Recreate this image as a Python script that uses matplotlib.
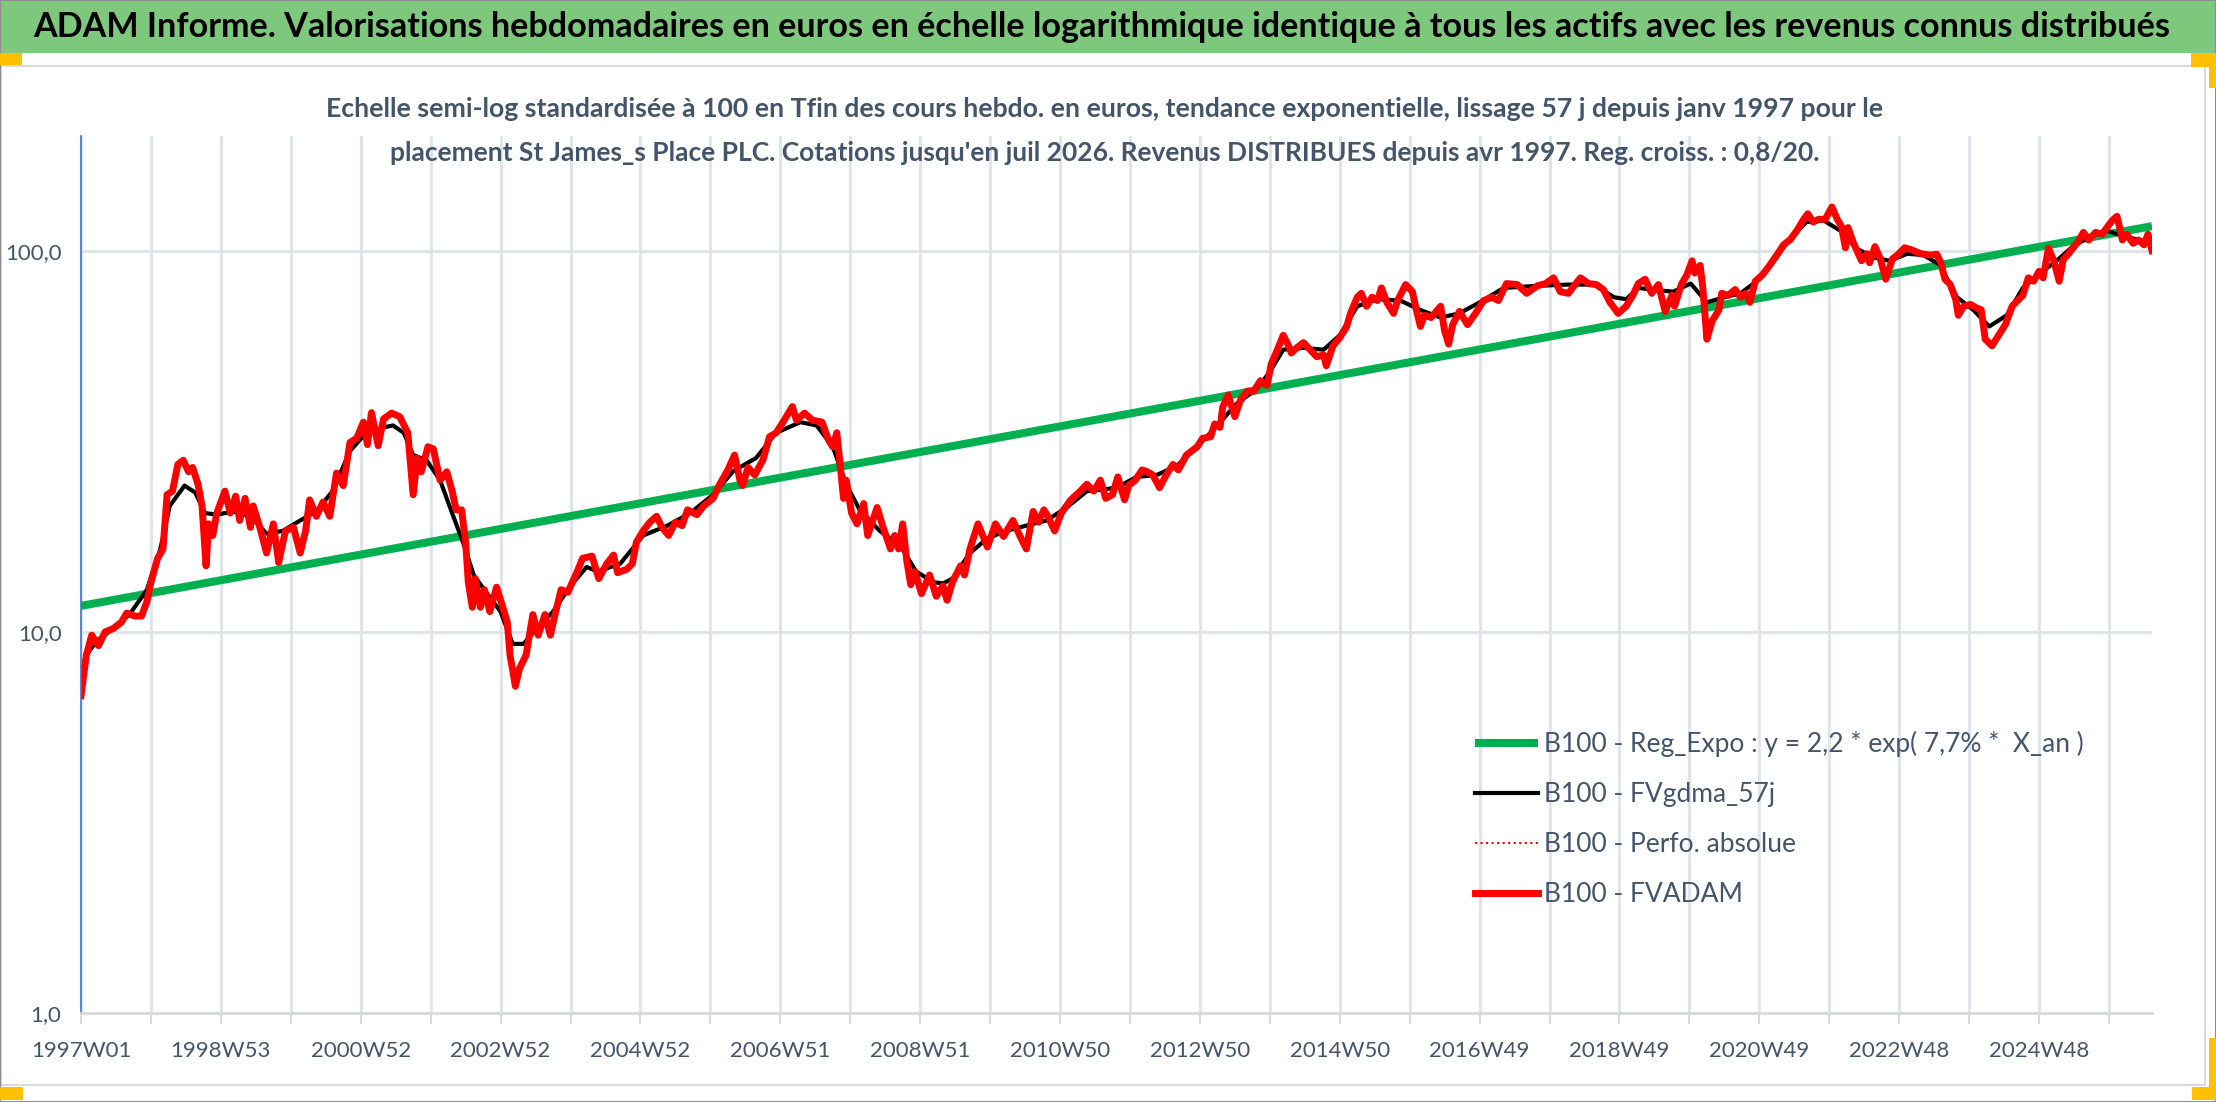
import matplotlib
matplotlib.use('Agg')
import matplotlib.pyplot as plt
from matplotlib.patches import Rectangle

plt.rcParams['font.family'] = ['Lato', 'DejaVu Sans']

# ---- data (x = week index since 1997W01) ----
red_w = [0, 4, 8, 13, 18, 24, 30, 34, 40, 45, 49, 52, 57, 61, 64, 68, 72, 76, 80, 83,
         87, 90, 93, 95, 98, 101, 107, 111, 115, 118, 122, 126, 128, 133, 138, 143, 147, 152, 158, 163,
         167, 170, 175, 180, 185, 190, 195, 200, 205, 210, 213, 216, 221, 225, 231, 237, 243, 247, 250, 253,
         258, 262, 267, 272, 276, 279, 283, 286, 288, 291, 293, 297, 300, 304, 309, 313, 317, 319, 323, 326,
         331, 336, 340, 345, 349, 353, 357, 362, 369, 373, 380, 385, 391, 396, 399, 406, 410, 413, 418, 423,
         428, 432, 437, 442, 447, 451, 458, 463, 470, 475, 481, 486, 490, 492, 496, 501, 507, 512, 517, 522,
         529, 532, 538, 544, 551, 556, 559, 562, 564, 567, 569, 573, 577, 582, 585, 592, 596, 602, 605, 608,
         611, 614, 617, 620, 625, 631, 636, 641, 644, 648, 654, 657, 661, 667, 674, 680, 686, 693, 698, 703,
         708, 712, 716, 719, 724, 729, 736, 742, 748, 753, 758, 762, 767, 771, 776, 779, 784, 789, 793, 797,
         802, 807, 812, 816, 822, 830, 834, 840, 843, 847, 849, 853, 858, 862, 867, 872, 877, 882, 885, 889,
         894, 898, 900, 904, 909, 914, 919, 924, 926, 931, 936, 941, 944, 949, 952, 956, 960, 964, 967, 971,
         976, 979, 985, 990, 993, 996, 999, 1004, 1011, 1014, 1017, 1020, 1025, 1031, 1037, 1043, 1049, 1054, 1060, 1068,
         1075, 1083, 1089, 1095, 1100, 1106, 1111, 1115, 1121, 1127, 1132, 1137, 1143, 1149, 1154, 1158, 1163, 1168, 1173, 1178,
         1183, 1185, 1190, 1194, 1198, 1200, 1204, 1206, 1209, 1213, 1218, 1220, 1225, 1230, 1234, 1238, 1241, 1245, 1250, 1255,
         1261, 1266, 1271, 1276, 1281, 1284, 1288, 1292, 1297, 1302, 1306, 1309, 1312, 1314, 1318, 1321, 1324, 1328, 1330, 1334,
         1338, 1342, 1347, 1351, 1356, 1361, 1368, 1375, 1380, 1383, 1386, 1390, 1394, 1396, 1400, 1405, 1410, 1413, 1416, 1421,
         1426, 1431, 1436, 1441, 1444, 1448, 1452, 1456, 1459, 1463, 1467, 1471, 1474, 1478, 1481, 1485, 1489, 1493, 1498, 1503,
         1508, 1511, 1514, 1518, 1521, 1526, 1530, 1534, 1537, 1540]
red_v = [6.8, 8.7, 9.8, 9.2, 10.0, 10.2, 10.6, 11.2, 11.0, 11.0, 12.0, 13.5, 15.6, 16.5, 22.9, 23.4, 27.5, 28.2, 26.3, 27.0,
         24.4, 21.4, 14.9, 19.2, 17.9, 20.5, 23.4, 20.5, 22.7, 19.6, 22.4, 18.8, 21.4, 18.8, 16.1, 19.2, 15.2, 18.4, 18.8, 16.1,
         18.4, 22.2, 20.1, 21.9, 20.1, 26.1, 24.2, 31.4, 32.2, 35.5, 31.0, 37.6, 30.8, 36.2, 37.5, 36.7, 33.3, 22.9, 28.6, 26.3,
         30.6, 30.2, 25.0, 26.3, 23.4, 20.9, 20.9, 17.2, 13.5, 11.6, 13.8, 11.6, 12.9, 11.3, 13.1, 11.8, 10.6, 8.7, 7.2, 8.0,
         8.7, 11.1, 9.8, 11.1, 9.8, 11.3, 12.9, 12.7, 14.4, 15.6, 15.8, 13.8, 15.1, 15.9, 14.3, 14.6, 15.1, 17.2, 18.4, 19.4,
         20.1, 18.8, 17.9, 19.4, 19.0, 20.9, 20.3, 21.4, 22.4, 24.4, 26.6, 29.1, 25.0, 24.2, 27.0, 25.8, 28.2, 32.5, 33.3, 35.5,
         39.0, 35.9, 37.5, 35.9, 35.5, 31.8, 30.6, 33.3, 28.6, 22.4, 25.0, 20.5, 19.2, 21.7, 17.9, 21.2, 19.0, 16.5, 17.9, 16.5,
         19.2, 15.4, 13.3, 14.4, 12.6, 14.1, 12.4, 13.2, 12.1, 13.5, 14.9, 14.1, 16.5, 19.2, 16.7, 19.2, 17.8, 19.6, 17.9, 16.5,
         20.7, 19.4, 20.9, 20.1, 18.4, 20.5, 22.2, 23.2, 24.4, 23.4, 25.0, 22.4, 22.9, 25.5, 22.2, 24.2, 25.0, 26.6, 26.3, 25.8,
         23.9, 25.8, 27.5, 26.6, 29.1, 30.6, 32.2, 32.5, 35.1, 34.4, 38.9, 41.8, 36.7, 40.4, 42.8, 42.8, 45.6, 44.3, 50.4, 54.3,
         60.0, 56.3, 53.9, 55.6, 57.4, 55.0, 52.7, 53.3, 49.9, 56.3, 59.1, 63.0, 68.5, 75.5, 77.3, 71.5, 75.5, 74.0, 79.9, 73.2,
         68.5, 74.0, 81.5, 78.1, 69.9, 63.3, 67.7, 66.8, 71.5, 61.6, 56.9, 64.0, 69.3, 64.0, 68.5, 74.0, 75.5, 74.0, 82.0, 81.5,
         77.3, 80.9, 82.0, 84.9, 78.1, 77.3, 81.5, 84.9, 82.0, 81.5, 79.1, 73.2, 68.5, 71.5, 76.4, 82.0, 84.2, 77.3, 81.5, 69.3,
         76.4, 71.5, 81.5, 86.2, 94.1, 87.4, 91.5, 79.9, 58.6, 65.5, 69.9, 77.3, 76.4, 79.1, 75.5, 77.3, 73.2, 83.2, 86.2, 90.8,
         97.4, 103.6, 107.0, 113.0, 120.9, 125.0, 118.9, 120.9, 120.9, 130.3, 120.9, 116.0, 101.8, 115.0, 104.8, 99.3, 94.1, 98.2, 93.0, 102.5,
         95.2, 84.2, 95.2, 97.6, 101.8, 100.6, 98.2, 97.4, 97.9, 93.0, 84.2, 81.5, 74.6, 67.7, 71.5, 72.3, 70.6, 70.0, 58.6, 56.3,
         60.0, 64.0, 71.5, 74.6, 76.4, 84.9, 83.2, 88.3, 84.9, 101.5, 94.1, 83.2, 94.9, 98.2, 101.5, 105.5, 111.7, 106.7, 111.7, 110.5,
         117.0, 120.6, 123.1, 106.7, 110.5, 104.6, 106.7, 103.6, 110.5, 100.0]

black_w = [0, 4, 12, 24, 36, 49, 59, 66, 77, 85, 92, 101, 113, 126, 138, 150, 163, 175, 187, 200,
           212, 225, 232, 240, 247, 257, 267, 274, 284, 292, 302, 312, 321, 329, 339, 351, 364, 376, 384, 401,
           418, 436, 453, 470, 485, 502, 517, 535, 547, 559, 569, 579, 594, 609, 621, 634, 641, 648, 661, 674,
           688, 703, 718, 733, 748, 763, 771, 785, 800, 815, 830, 845, 859, 874, 884, 894, 909, 924, 936, 949,
           964, 981, 996, 1011, 1025, 1040, 1058, 1083, 1105, 1125, 1140, 1149, 1158, 1167, 1184, 1197, 1209, 1222, 1234, 1246,
           1259, 1271, 1283, 1296, 1308, 1320, 1333, 1345, 1358, 1370, 1382, 1395, 1407, 1419, 1432, 1444, 1457, 1469, 1481, 1494,
           1506, 1519, 1540]
black_v = [7.8, 8.7, 9.5, 10.2, 11.1, 12.9, 16.5, 21.4, 24.2, 23.2, 20.5, 20.3, 20.7, 20.1, 18.1, 18.4, 19.6, 20.7, 23.4, 29.8,
           33.3, 34.4, 34.8, 33.3, 29.1, 28.2, 25.0, 21.4, 17.2, 14.1, 12.6, 11.3, 9.3, 9.3, 10.2, 11.3, 13.2, 14.8, 14.4, 15.1,
           17.9, 19.0, 20.5, 22.9, 26.4, 28.6, 33.3, 35.5, 34.8, 30.6, 24.4, 20.9, 18.4, 16.9, 14.4, 13.5, 13.4, 13.8, 16.1, 17.6,
           18.4, 19.0, 19.6, 21.2, 23.4, 23.7, 24.0, 25.5, 25.8, 27.3, 30.6, 34.8, 39.6, 43.3, 48.1, 55.0, 55.6, 55.0, 60.0, 71.5,
           74.6, 74.0, 69.9, 66.8, 68.5, 73.2, 79.9, 80.9, 81.5, 81.5, 75.5, 74.6, 79.9, 79.1, 78.1, 82.0, 73.2, 75.5, 77.3, 83.2,
           94.1, 108.0, 118.9, 120.0, 113.0, 101.5, 96.0, 94.1, 98.2, 97.4, 92.0, 75.5, 70.0, 63.3, 67.7, 79.9, 87.4, 94.1, 102.5, 109.2,
           113.0, 109.2, 104.6]

green_w = [0, 1540]
green_v = [11.7, 116.0]

week_ticks = list(range(0, 1541, 52))
week_labels = ['1997W01', '1998W53', '2000W52', '2002W52', '2004W52', '2006W51', '2008W51',
               '2010W50', '2012W50', '2014W50', '2016W49', '2018W49', '2020W49', '2022W48', '2024W48']

title = ('ADAM Informe. Valorisations hebdomadaires en euros en échelle logarithmique '
         'identique à tous les actifs avec les revenus connus distribués')
sub1 = ('Echelle semi-log standardisée à 100 en Tfin des cours hebdo. en euros, tendance '
        'exponentielle, lissage 57 j depuis janv 1997 pour le')
sub2 = ("placement St James_s Place PLC. Cotations jusqu'en juil 2026. Revenus DISTRIBUES "
        "depuis avr 1997. Reg. croiss. : 0,8/20.")
labels = ['B100 - Reg_Expo : y = 2,2 * exp( 7,7% *  X_an )', 'B100 - FVgdma_57j',
          'B100 - Perfo. absolue', 'B100 - FVADAM']

W, H = 2216, 1102
fig = plt.figure(figsize=(W / 100, H / 100), dpi=100)
renderer = fig.canvas.get_renderer()


def box(x0, y0, x1, y1, **kw):
    # pixel coords from the top-left corner
    fig.add_artist(Rectangle((x0 / W, 1 - y1 / H), (x1 - x0) / W, (y1 - y0) / H,
                             transform=fig.transFigure, **kw))


def fit(t, width):
    w = t.get_window_extent(renderer).width
    t.set_fontsize(t.get_fontsize() * width / w)


# frame decorations
box(0, 0, W, 53, facecolor='#7DC87D', edgecolor='none')
box(1, 66, 2205, 1085, facecolor='none', edgecolor='#D9D9D9', lw=1.5)
box(0, 0, W, H, facecolor='none', edgecolor='#8C8C8C', lw=1.5)
orange = '#FFC000'
box(0, 53, 22, 65, facecolor=orange, edgecolor='none')
box(0, 1087, 23, 1100, facecolor=orange, edgecolor='none')
box(2191, 53, W, 67, facecolor=orange, edgecolor='none')
box(2209, 67, W, 88, facecolor=orange, edgecolor='none')
box(2209, 1038, W, 1087, facecolor=orange, edgecolor='none')
box(2192, 1087, W, 1100, facecolor=orange, edgecolor='none')

t = fig.text(1102 / W, 1 - 27 / H, title, ha='center', va='center', fontsize=22,
             fontweight='bold', color='black')
fit(t, 2134)
s1 = fig.text(1105 / W, 1 - 109 / H, sub1, ha='center', va='center', fontsize=18,
              fontweight='bold', color='#44546A')
fit(s1, 1561)
s2 = fig.text(1105 / W, 1 - 153 / H, sub2, ha='center', va='center', fontsize=18,
              fontweight='bold', color='#44546A', zorder=5)
fit(s2, 1437)

ax = fig.add_axes([81 / W, 1 - 1013 / H, (2152 - 81) / W, (1013 - 136) / H])
ax.set_facecolor('none')
ax.set_yscale('log')

l_green, = ax.plot(green_w, green_v, color='#00B050', lw=5.8, solid_capstyle='butt', label=labels[0])
l_black, = ax.plot(black_w, black_v, color='black', lw=3.0, label=labels[1])
l_dot, = ax.plot(red_w, red_v, color='#FF0000', lw=1.5, ls=':', label=labels[2])
l_red, = ax.plot(red_w, red_v, color='#FF0000', lw=5.0, solid_joinstyle='round', label=labels[3])

ax.set_xlim(0, 1540)
ax.set_ylim(1, 200)
ax.set_yticks([1, 10, 100], ['1,0', '10,0', '100,0'])
ax.minorticks_off()
ax.set_xticks(week_ticks, [week_labels[i // 2] if i % 2 == 0 else '' for i in range(len(week_ticks))])
ax.grid(True, color='#DEE3EA', lw=2)
ax.set_axisbelow(True)
ax.tick_params(axis='x', length=8, width=1.5, color='#D9D9D9', pad=12, labelsize=16, labelcolor='#44546A')
ax.tick_params(axis='y', length=0, pad=14, labelsize=16, labelcolor='#44546A')
for s in ['top', 'right']:
    ax.spines[s].set_visible(False)
ax.spines['left'].set_color('#4472C4')
ax.spines['left'].set_linewidth(1.2)
ax.spines['bottom'].set_color('#D9D9D9')
ax.spines['bottom'].set_linewidth(2)

tmp = fig.text(0, 0, labels[0], fontsize=20)
fit(tmp, 540)
lfs = tmp.get_fontsize()
tmp.remove()
ax.legend(handles=[l_green, l_black, l_dot, l_red], loc='upper left',
          bbox_to_anchor=(1475 / W, 1 - 731 / H), bbox_transform=fig.transFigure,
          frameon=False, borderpad=0, borderaxespad=0, handlelength=2.4,
          handletextpad=0.2, labelspacing=0.95, fontsize=lfs, labelcolor='#44546A')

fig.savefig('out.png', dpi=100)
